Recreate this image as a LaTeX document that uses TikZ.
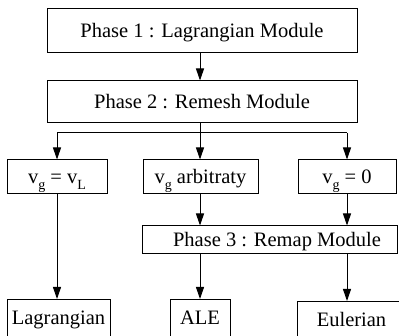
\documentclass[tikz,border=0pt]{standalone}
\usepackage{fontspec}
\setmainfont{Liberation Serif}
\usetikzlibrary{arrows.meta}
\newcommand\sbx[1]{\raisebox{-0.6ex}{\fontsize{14}{14}\selectfont #1}}
\begin{document}
\begin{tikzpicture}[x=1pt,y=-1pt,
  font=\fontsize{20.5}{24}\selectfont,
  box/.style={draw, line width=1pt, inner sep=0pt, text height=13.5pt, text depth=0pt},
  openbox/.style={draw, line width=1pt, inner xsep=0pt, inner ysep=11pt, anchor=north, text height=14pt, text depth=30pt},
  arr/.style={-{Triangle[length=12pt,width=8pt]}, line width=1pt},
  ln/.style={line width=1pt}]
\useasboundingbox (0,0) rectangle (399,336);
\node[box, minimum width=310pt, minimum height=44pt] (p1) at (202,31) {Phase 1 : Lagrangian Module};
\node[box, minimum width=310pt, minimum height=42pt] (p2) at (202,102) {Phase 2 : Remesh Module};
\node[box, minimum width=100pt, minimum height=34pt] (vl) at (57,177) {v\sbx{g} = v\sbx{L}};
\node[box, minimum width=115pt, minimum height=34pt] (va) at (200.5,177) {v\sbx{g} arbitraty};
\node[box, minimum width=98pt, minimum height=34pt] (v0) at (347,177) {v\sbx{g} = 0};
\node[box, minimum width=255pt, minimum height=28pt] (p3) at (269.5,240) {\hspace*{15pt}Phase 3 : Remap Module};
\node[openbox, minimum width=103pt] (lag) at (58.5,299) {Lagrangian};
\node[openbox, minimum width=60pt] (ale) at (200,299) {ALE};
\node[openbox, minimum width=109pt] (eul) at (351.5,301) {Eulerian};
\coordinate (j) at (200,133);
\coordinate (jl) at (57,133);
\coordinate (jr) at (347,133);
\draw[arr] (p1.south -| j) -- (p2.north -| j);
\draw[arr] (p2.south -| j) -- (va.north -| j);
\draw[ln] (jl) -- (jr);
\draw[arr] (jl) -- (vl.north -| jl);
\draw[arr] (jr) -- (v0.north -| jr);
\draw[arr] (va.south -| j) -- (p3.north -| j);
\draw[arr] (v0.south -| jr) -- (p3.north -| jr);
\draw[arr] (p3.south -| j) -- (ale.north -| j);
\draw[arr] (p3.south -| jr) -- (eul.north -| jr);
\draw[arr] (vl.south -| jl) -- (lag.north -| jl);
\end{tikzpicture}
\end{document}
